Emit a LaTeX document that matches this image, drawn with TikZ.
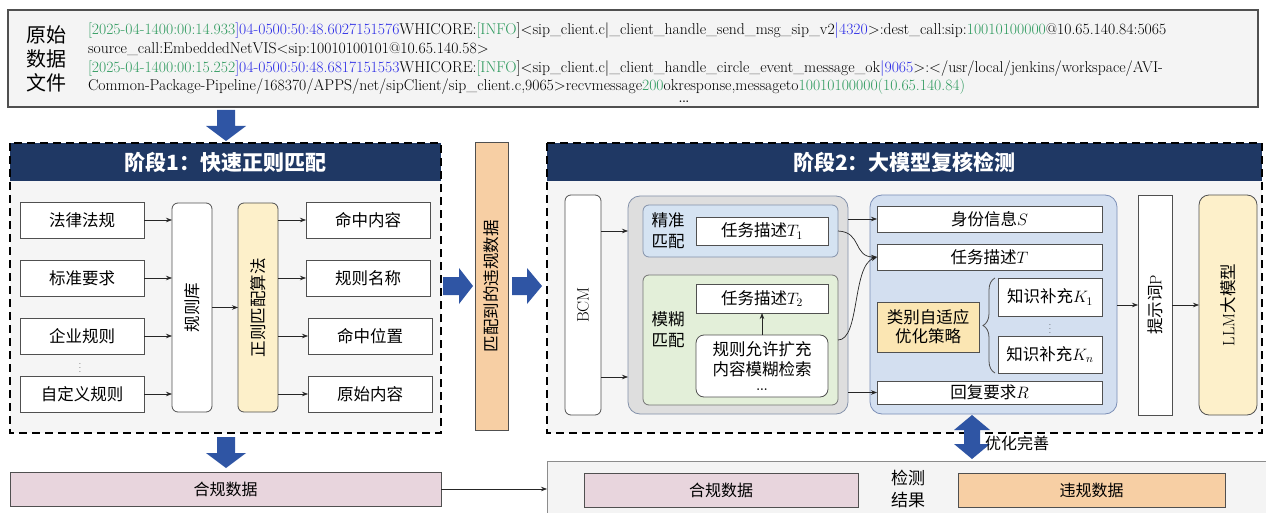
\RequirePackage{fix-cm}
\documentclass[tikz,border=0pt]{standalone}
\usepackage{graphicx}
\usepackage{fontspec}
\newfontfamily\cjk{Noto Sans CJK SC}
\usetikzlibrary{arrows.meta,decorations.pathreplacing,calc}
\definecolor{navy}{HTML}{1F3864}
\definecolor{blockblue}{HTML}{2F55A4}
\definecolor{bodygray}{HTML}{F5F5F5}
\definecolor{bd}{HTML}{505050}
\definecolor{ylw}{HTML}{FDF0CA}
\definecolor{ylw2}{HTML}{FBE6B3}
\definecolor{peach}{HTML}{F7CFA4}
\definecolor{pinkb}{HTML}{E8D5DD}
\definecolor{gcfill}{HTML}{DEDEDE}
\definecolor{gcdraw}{HTML}{8391AA}
\definecolor{lblue}{HTML}{D5E3F2}
\definecolor{lgreen}{HTML}{E3EFD9}
\definecolor{bcfill}{HTML}{D3DFF0}
\definecolor{bcdraw}{HTML}{7B8EB6}
\definecolor{logg}{HTML}{2E9A5E}
\definecolor{logb}{HTML}{2B2BE6}
\definecolor{topfill}{HTML}{F4F4F4}
\newlength\myloglen
\newcommand\logla{\textcolor{logg}{[2025-04-1400:00:14.933}\textcolor{logb}{]04-0500:50:48.6027151576}WHICORE:\textcolor{logg}{[INFO}]<sip\_client.c|\_client\_handle\_send\_msg\_sip\_v2\textcolor{logb}{|4320}>:dest\_call:sip:\textcolor{logg}{10010100000}@10.65.140.84:5065}
\newcommand\loglb{source\_call:EmbeddedNetVIS<sip:10010100101@10.65.140.58>}
\newcommand\loglc{\textcolor{logg}{[2025-04-1400:00:15.252}\textcolor{logb}{]04-0500:50:48.6817151553}WHICORE:\textcolor{logg}{[INFO}]<sip\_client.c|\_client\_handle\_circle\_event\_message\_ok\textcolor{logb}{|9065}>:</usr/local/jenkins/workspace/AVI-}
\newcommand\logld{Common-Package-Pipeline/168370/APPS/net/sipClient/sip\_client.c,9065>recvmessage\textcolor{logg}{200}okresponse,messageto\textcolor{logg}{10010100000(10.65.140.84)}}
\begin{document}
\settowidth\myloglen{\fontsize{14}{17}\selectfont\logla}%
\pgfmathsetmacro\logfs{1150/\myloglen*14}%
\begin{tikzpicture}[x=1pt,y=-1pt,
  every node/.style={inner sep=0pt,outer sep=0pt},
  box/.style={draw=bd,line width=0.8pt,fill=white,align=center,font=\cjk\fontsize{16.5}{20}\selectfont},
  rbox/.style={box,rounded corners=6pt},
  arr/.style={-{Stealth[length=6pt,width=4.5pt]},line width=0.7pt,draw=black!85},
  blk/.style={fill=blockblue,draw=none},
  hdr/.style={fill=navy,text=white,font=\cjk\bfseries\fontsize{21}{24}\selectfont},
  stbody/.style={fill=bodygray,draw=none},
  dashb/.style={draw=black,line width=1.8pt,dash pattern=on 8pt off 5pt},
  lbl/.style={align=center,font=\cjk\fontsize{16.5}{21}\selectfont},
  smalltxt/.style={font=\cjk\fontsize{16}{19}\selectfont},
  vdot/.style={font=\fontsize{8}{8}\selectfont},
  logtxt/.style={anchor=west}
]
\useasboundingbox (0,0) rectangle (1266,513);
% top raw data box
\node[draw=bd,line width=1.4pt,fill=topfill,minimum width=1250pt,minimum height=97pt] (top) at (633,58.5) {};
\node[align=center,font=\cjk\fontsize{20}{24}\selectfont] (rawl) at (47,59) {原始\\数据\\文件};
\begin{scope}[every node/.append style={font=\fontsize{\logfs}{\logfs}\selectfont}]
\node[logtxt] (lg1) at (88,31) {\logla};
\node[logtxt] (lg2) at (88,50) {\loglb};
\node[logtxt] (lg3) at (88,69) {\loglc};
\node[logtxt] (lg4) at (88,87) {\logld};
\end{scope}
\node[font=\bfseries\fontsize{11}{11}\selectfont] (lg5) at (684,102) {...};
% block arrow top -> stage 1
\fill[blk] (217,110) -- (235,110) -- (235,126) -- (246,126) -- (226,141) -- (206,126) -- (217,126) -- cycle;
% stage 1
\node[stbody,minimum width=431pt,minimum height=290pt] (s1) at (225.5,288) {};
\node[hdr,minimum width=431pt,minimum height=38pt] (h1) at (225.5,162) {阶段1：快速正则匹配};
\draw[dashb] (s1.north west) rectangle (s1.south east);
\node[box,minimum width=124pt,minimum height=36pt] (l1) at (82,220) {法律法规};
\node[box,minimum width=124pt,minimum height=36pt] (l2) at (82,278) {标准要求};
\node[box,minimum width=124pt,minimum height=36pt] (l3) at (82,336) {企业规则};
\node[vdot] (vd1) at (80,365) {$\vdots$};
\node[box,minimum width=124pt,minimum height=36pt] (l4) at (82,394) {自定义规则};
\node[rbox,minimum width=40pt,minimum height=209pt] (gk) at (192,307.5) {\rotatebox{90}{规则库}};
\node[rbox,fill=ylw,minimum width=40pt,minimum height=209pt] (zz) at (258,307.5) {\rotatebox{90}{正则匹配算法}};
\node[box,minimum width=124pt,minimum height=36pt] (r1) at (368,220) {命中内容};
\node[box,minimum width=124pt,minimum height=36pt] (r2) at (368,278) {规则名称};
\node[box,minimum width=124pt,minimum height=36pt] (r3) at (370,336) {命中位置};
\node[box,minimum width=124pt,minimum height=36pt] (r4) at (370,394) {原始内容};
\foreach \n in {l1,l2,l3,l4} \draw[arr] (\n.east) -- (\n.east -| gk.west);
\draw[arr] (gk.east) -- (zz.west);
\foreach \n in {r1,r2,r3,r4} \draw[arr] (zz.east |- \n.west) -- (\n.west);
% middle
\fill[blk] (443,277) -- (459,277) -- (459,268) -- (473,286) -- (459,304) -- (459,295) -- (443,295) -- cycle;
\node[box,fill=peach,minimum width=33pt,minimum height=288pt] (vb) at (491.5,286) {\rotatebox{90}{匹配到的违规数据}};
\fill[blk] (512,277) -- (527,277) -- (527,268) -- (542,286) -- (527,304) -- (527,295) -- (512,295) -- cycle;
% stage 2
\node[stbody,minimum width=715pt,minimum height=290pt] (s2) at (904.5,288) {};
\node[hdr,minimum width=715pt,minimum height=38pt] (h2) at (904.5,162) {阶段2：大模型复核检测};
\draw[dashb] (s2.north west) rectangle (s2.south east);
\node[rbox,minimum width=36pt,minimum height=220pt] (bcm) at (583,305) {\rotatebox{90}{\rmfamily BCM}};
\node[draw=gcdraw,line width=0.8pt,fill=gcfill,rounded corners=12pt,minimum width=220pt,minimum height=218pt] (gc) at (738,305) {};
\node[draw=gcdraw,line width=0.8pt,fill=lblue,rounded corners=6pt,minimum width=195pt,minimum height=52pt] (jz) at (740.5,231) {};
\node[lbl] (jzl) at (668,231) {精准\\匹配};
\node[box,minimum width=132pt,minimum height=28pt] (t1) at (762,231) {任务描述$T_1$};
\node[draw=bd!80,line width=0.8pt,fill=lgreen,rounded corners=6pt,minimum width=195pt,minimum height=130pt] (mh) at (740.5,340) {};
\node[lbl] (mhl) at (668,330) {模糊\\匹配};
\node[box,minimum width=132pt,minimum height=29pt] (t2) at (762,298.5) {任务描述$T_2$};
\node[rbox,rounded corners=8pt,minimum width=132pt,minimum height=62pt] (rule) at (762,366) {规则允许扩充\\内容模糊检索\\[-5pt]{\rmfamily\bfseries\fontsize{12}{12}\selectfont ...}};
\draw[arr] (rule.north) -- (t2.south);
\coordinate (b2) at (0,377);
\draw[arr] (bcm.east |- jz.center) -- (gc.west |- jz.center);
\draw[arr] (bcm.east |- b2) -- (gc.west |- b2);
\node[draw=bcdraw,line width=0.8pt,fill=bcfill,rounded corners=12pt,minimum width=247pt,minimum height=219pt] (bc) at (993.5,304.5) {};
\node[box,minimum width=225pt,minimum height=26pt] (sf) at (989.5,219) {身份信息$S$};
\node[box,minimum width=225pt,minimum height=26pt] (tt) at (989.5,257) {任务描述$T$};
\node[box,fill=ylw2,minimum width=102pt,minimum height=50pt,font=\cjk\fontsize{16.5}{19}\selectfont] (yy) at (928,327) {类别自适应\\优化策略};
\node[box,minimum width=104pt,minimum height=38pt] (k1) at (1050,297) {知识补充$K_1$};
\node[vdot] (vd2) at (1050,326) {$\vdots$};
\node[box,minimum width=104pt,minimum height=37pt] (kn) at (1050,354.5) {知识补充$K_n$};
\node[box,minimum width=225pt,minimum height=23pt] (rr) at (989.5,392.5) {回复要求$R$};
\draw[line width=0.8pt,draw=bd,decorate,decoration={brace,amplitude=12pt,aspect=0.5}] ($(kn.south west)+(-3,0)$) -- ($(k1.north west)+(-3,0)$);
\draw[arr] (gc.east |- sf.west) -- (sf.west);
\draw[arr] (gc.east |- rr.west) -- (rr.west);
\draw[arr] (jz.east |- t1.east) .. controls (862,232) and (853,257) .. (tt.west);
\draw[arr] (mh.east) .. controls (860,340) and (852,266) .. (tt.west);
\node[box,minimum width=34pt,minimum height=220pt] (ts) at (1155,305) {\rotatebox{90}{提示词{\rmfamily P}}};
\node[rbox,rounded corners=10pt,fill=ylw,minimum width=58pt,minimum height=220pt] (llm) at (1228,305) {\rotatebox{90}{{\rmfamily LLM}大模型}};
\draw[arr] (bc.east |- ts.west) -- (ts.west);
\draw[arr] (ts.east) -- (llm.west);
% double arrow
\fill[blk] (972,415) -- (990,430) -- (980,430) -- (980,444) -- (990,444) -- (972,459) -- (954,444) -- (964,444) -- (964,430) -- (954,430) -- cycle;
\node[smalltxt,anchor=west] (yh) at (985,443) {优化完善};
% bottom
\fill[blk] (217,437) -- (235,437) -- (235,453) -- (246,453) -- (226,468) -- (206,453) -- (217,453) -- cycle;
\node[box,fill=pinkb,smalltxt,minimum width=431pt,minimum height=34pt] (hg) at (225.5,489) {合规数据};
\fill[topfill] (547,461) rectangle (1266,513);
\draw[line width=0.8pt,draw=black!45] (547,513) -- (547,461) -- (1266,461);
\coordinate (botin) at (547,489);
\draw[arr] (hg.east) -- (botin);
\node[box,fill=pinkb,smalltxt,minimum width=274pt,minimum height=34pt] (hg2) at (721,490) {合规数据};
\node[align=center,font=\cjk\fontsize{17}{22}\selectfont] (jc) at (908,489) {检测\\结果};
\node[box,fill=peach,smalltxt,minimum width=267pt,minimum height=34pt] (wg) at (1091.5,490) {违规数据};
\end{tikzpicture}
\end{document}
